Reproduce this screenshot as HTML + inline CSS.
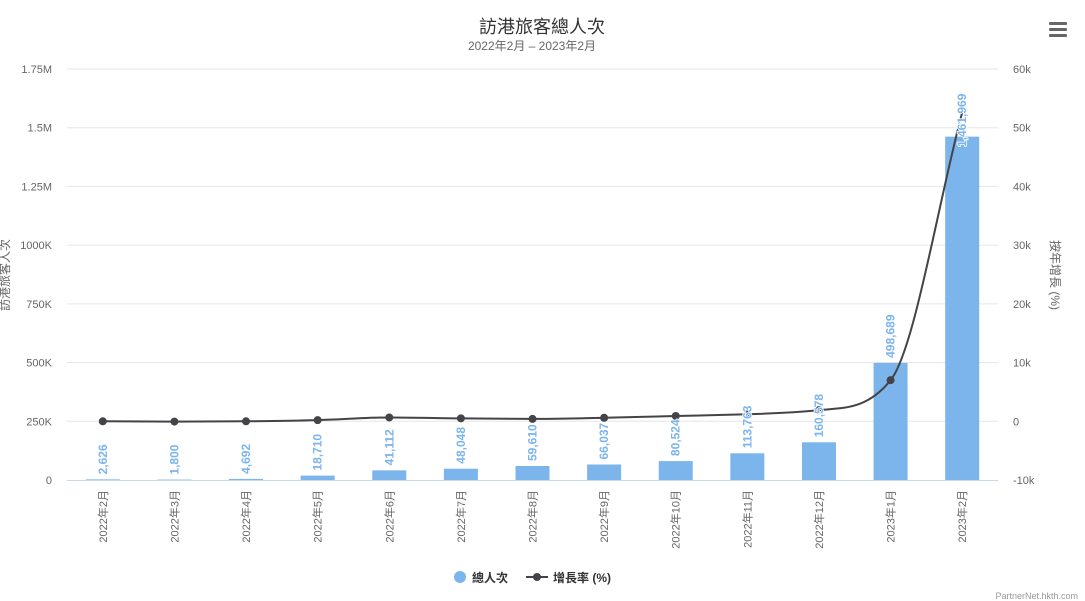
<!DOCTYPE html>
<html><head><meta charset="utf-8"><style>
body{margin:0;background:#fff;}
svg{display:block;font-family:"Liberation Sans","Noto Sans CJK TC",sans-serif;}
</style></head><body>
<svg id="c" width="1085" height="601">
<text x="542" y="33" text-anchor="middle" font-size="18" fill="#333">訪港旅客總人次</text>
<text x="532" y="50" text-anchor="middle" font-size="12" fill="#666">2022年2月 – 2023年2月</text>
<g fill="#666"><rect x="1049" y="22" width="18" height="3" rx="1"/><rect x="1049" y="28" width="18" height="3" rx="1"/><rect x="1049" y="34" width="18" height="3" rx="1"/></g>
<g id="grid"></g><g id="bars"></g><g id="line"></g><g id="labels"></g><g id="axes"></g>
<text transform="translate(9,275) rotate(-90)" text-anchor="middle" font-size="12" fill="#666">訪港旅客人次</text>
<text transform="translate(1051,275) rotate(90)" text-anchor="middle" font-size="12" fill="#666">按年增長 (%)</text>
<g><circle cx="460" cy="577" r="6" fill="#7cb5ec"/><text x="472" y="582" font-size="12" font-weight="bold" fill="#333">總人次</text></g>
<g><line x1="526" y1="577" x2="548" y2="577" stroke="#434348" stroke-width="2"/><circle cx="537" cy="577" r="4" fill="#434348"/><text x="553" y="582" font-size="12" font-weight="bold" fill="#333">增長率 (%)</text></g>
<text x="1078" y="599" text-anchor="end" font-size="9" fill="#999">PartnerNet.hkth.com</text>
</svg>
<script>
const categories=["2022年2月","2022年3月","2022年4月","2022年5月","2022年6月","2022年7月","2022年8月","2022年9月","2022年10月","2022年11月","2022年12月","2023年1月","2023年2月"];
const visitors=[2626,1800,4692,18710,41112,48048,59610,66037,80524,113763,160578,498689,1461969];
const growth=[0,-50,0,200,650,500,400,600,900,1200,1900,7000,52600];
const leftTicks=[0,250000,500000,750000,1000000,1250000,1500000,1750000];
const leftTickLabels=["0","250K","500K","750K","1000K","1.25M","1.5M","1.75M"];
const rightTicks=[-10000,0,10000,20000,30000,40000,50000,60000];
const rightTickLabels=["-10k","0","10k","20k","30k","40k","50k","60k"];
const NS="http://www.w3.org/2000/svg";
const X0=67,X1=998,Y0=480,Y1=69;
const step=(X1-X0)/categories.length;
const xc=i=>X0+step*(i+0.5);
const yL=v=>Y0-(v/1750000)*(Y0-Y1);
const yR=v=>Y0-((v+10000)/70000)*(Y0-Y1);
function mk(tag,attrs,parent,txt){const e=document.createElementNS(NS,tag);for(const k in attrs)e.setAttribute(k,attrs[k]);if(txt!==undefined)e.textContent=txt;document.getElementById(parent).appendChild(e);return e;}
leftTicks.forEach((t,i)=>{
  if(t>0){const g=mk('line',{x1:X0,x2:X1,y1:yL(t),y2:yL(t),stroke:'#e6e6e6'},'grid');
  
  }
  const l=mk('text',{x:52,y:yL(t)+4,'text-anchor':'end','font-size':11,fill:'#666'},'axes',leftTickLabels[i]);
  
  
});
rightTicks.forEach((t,i)=>{
  const l=mk('text',{x:1013,y:yR(t)+4,'font-size':11,fill:'#666'},'axes',rightTickLabels[i]);
  
  
});
const ax=mk('line',{x1:X0,x2:X1,y1:Y0+0.5,y2:Y0+0.5,stroke:'#ccd6eb'},'axes');


categories.forEach((c,i)=>{
  const t=mk('text',{transform:`translate(${xc(i)+4},490) rotate(-90)`,'text-anchor':'end','font-size':11,fill:'#666'},'axes',c);
  
  
});
visitors.forEach((v,i)=>{
  const y=yL(v);
  const b=mk('rect',{x:xc(i)-17,y:y,width:34,height:Y0-y,fill:'#7cb5ec'},'bars');
  
  
});
const pts=growth.map((g,i)=>[xc(i),yR(g)]);
const n=pts.length,dl=[],m=[];
for(let i=0;i<n-1;i++)dl.push((pts[i+1][1]-pts[i][1])/(pts[i+1][0]-pts[i][0]));
for(let i=0;i<n;i++){
  if(i===0)m.push(dl[0]);else if(i===n-1)m.push(dl[n-2]);
  else m.push(dl[i-1]*dl[i]<=0?0:(dl[i-1]+dl[i])/2);
}
for(let i=0;i<n-1;i++){
  if(dl[i]===0){m[i]=0;m[i+1]=0;continue;}
  const a=m[i]/dl[i],b=m[i+1]/dl[i],s=a*a+b*b;
  if(s>9){const t=3/Math.sqrt(s);m[i]=t*a*dl[i];m[i+1]=t*b*dl[i];}
}
let d=`M${pts[0][0]},${pts[0][1]}`;
for(let i=0;i<n-1;i++){
  const h=(pts[i+1][0]-pts[i][0])/3;
  d+=` C${pts[i][0]+h},${pts[i][1]+m[i]*h} ${pts[i+1][0]-h},${pts[i+1][1]-m[i+1]*h} ${pts[i+1][0]},${pts[i+1][1]}`;
}
const ln=mk('path',{d:d,fill:'none',stroke:'#434348','stroke-width':2},'line');


pts.forEach((p,i)=>{
  if(i===pts.length-1)return;
  const c=mk('circle',{cx:p[0],cy:p[1],r:4,fill:'#434348'},'line');
  
  
});
visitors.forEach((v,i)=>{
  const y=yL(v);
  let ly=Math.min(y-5,475);
  const s=v.toLocaleString('en-US');
  if(ly-s.length*7<Y1+10) ly=147;
  const t=mk('text',{transform:`translate(${xc(i)+4},${ly}) rotate(-90)`,'font-size':12,'font-weight':'bold',fill:'#7cb5ec',stroke:'#fff','stroke-width':1.5,'paint-order':'stroke','stroke-linejoin':'round'},'labels',s);
  
  
});
</script>
</body></html>
